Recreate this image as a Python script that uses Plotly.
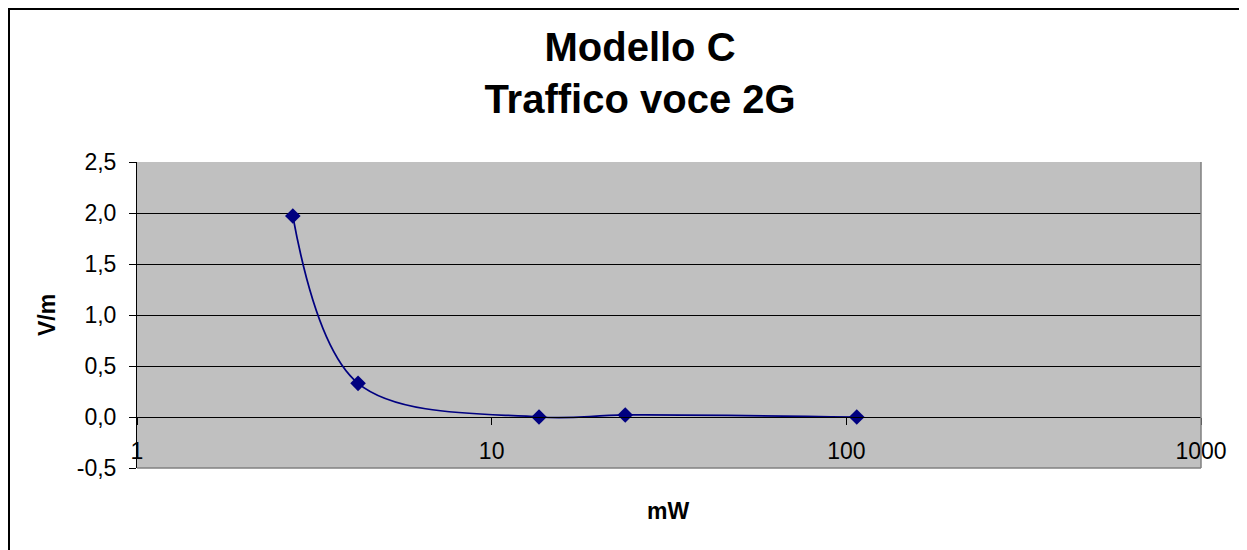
import plotly.graph_objects as go

# Data
power_mw = [2.75, 4.2, 13.6, 23.8, 107]
field_vm = [1.97, 0.33, 0.0, 0.02, 0.0]

x_tick_vals = [1, 10, 100, 1000]
x_tick_text = ["1", "10", "100", "1000"]
y_tick_vals = [-0.5, 0.0, 0.5, 1.0, 1.5, 2.0, 2.5]
y_tick_text = ["-0,5", "0,0", "0,5", "1,0", "1,5", "2,0", "2,5"]

title_lines = ["Modello C", "Traffico voce 2G"]
x_title = "mW"
y_title = "V/m"

# The page places the figure 8px from the top-left corner of the window
OFF = 8
W, H = 1247 - OFF, 550 - OFF
L, R, T, B = 137 - OFF, 1247 - 1201, 162 - OFF, 550 - 468
pw = W - L - R
ph = H - T - B

def px_x(p):  # p in window pixels
    return (p - OFF - L) / pw

def px_y(p):
    return (H - B - (p - OFF)) / ph

FONT = "Arial, Liberation Sans, sans-serif"
NAVY = "#000080"

fig = go.Figure()
fig.add_trace(go.Scatter(
    x=power_mw, y=field_vm,
    mode="lines+markers",
    line=dict(color=NAVY, width=1.75, shape="spline", smoothing=1),
    marker=dict(symbol="diamond", size=12, color=NAVY, line=dict(width=0)),
    showlegend=False,
))

fig.update_layout(
    width=W, height=H,
    margin=dict(l=L, r=R, t=T, b=B),
    paper_bgcolor="white",
    plot_bgcolor="#C0C0C0",
    font=dict(family=FONT, color="black", size=23),
    title=dict(
        text="<br>".join("<b>" + s + "</b>" for s in title_lines),
        xref="container", x=(640 - OFF) / W, xanchor="center",
        yref="container", y=1 - (61 - OFF) / H, yanchor="middle",
        font=dict(family=FONT, size=40, color="black"),
    ),
    xaxis=dict(
        type="log", range=[0, 3],
        tickvals=x_tick_vals, ticktext=x_tick_text,
        anchor="free", position=0.5 / 3,
        showline=True, linecolor="black", linewidth=1,
        ticks="outside", ticklen=7, tickcolor="black",
        ticklabelstandoff=6,
        showgrid=False, zeroline=False,
        tickfont=dict(size=23),
    ),
    yaxis=dict(
        range=[-0.5, 2.5],
        tickvals=y_tick_vals, ticktext=y_tick_text,
        showline=True, linecolor="black", linewidth=1,
        ticks="outside", ticklen=7, tickcolor="black",
        ticklabelstandoff=8,
        showgrid=True, gridcolor="black", gridwidth=1,
        zeroline=False,
        tickfont=dict(size=23),
    ),
    shapes=[
        dict(type="line", xref="paper", yref="paper", x0=1, x1=1, y0=0, y1=1,
             line=dict(color="#808080", width=1.5)),
        dict(type="line", xref="paper", yref="paper", x0=0, x1=1, y0=0, y1=0,
             line=dict(color="#808080", width=1.5)),
        dict(type="rect", xref="paper", yref="paper",
             x0=px_x(OFF + 1), x1=px_x(1260), y0=px_y(570), y1=px_y(OFF + 1),
             line=dict(color="black", width=2), fillcolor="rgba(0,0,0,0)"),
    ],
    annotations=[
        dict(text="<b>" + y_title + "</b>", xref="paper", yref="paper",
             x=px_x(47), y=px_y(315), textangle=-90, showarrow=False,
             xanchor="center", yanchor="middle", font=dict(size=23)),
        dict(text="<b>" + x_title + "</b>", xref="paper", yref="paper",
             x=px_x(668), y=px_y(511), showarrow=False,
             xanchor="center", yanchor="middle", font=dict(size=23)),
    ],
)

fig.write_html("out.html")
